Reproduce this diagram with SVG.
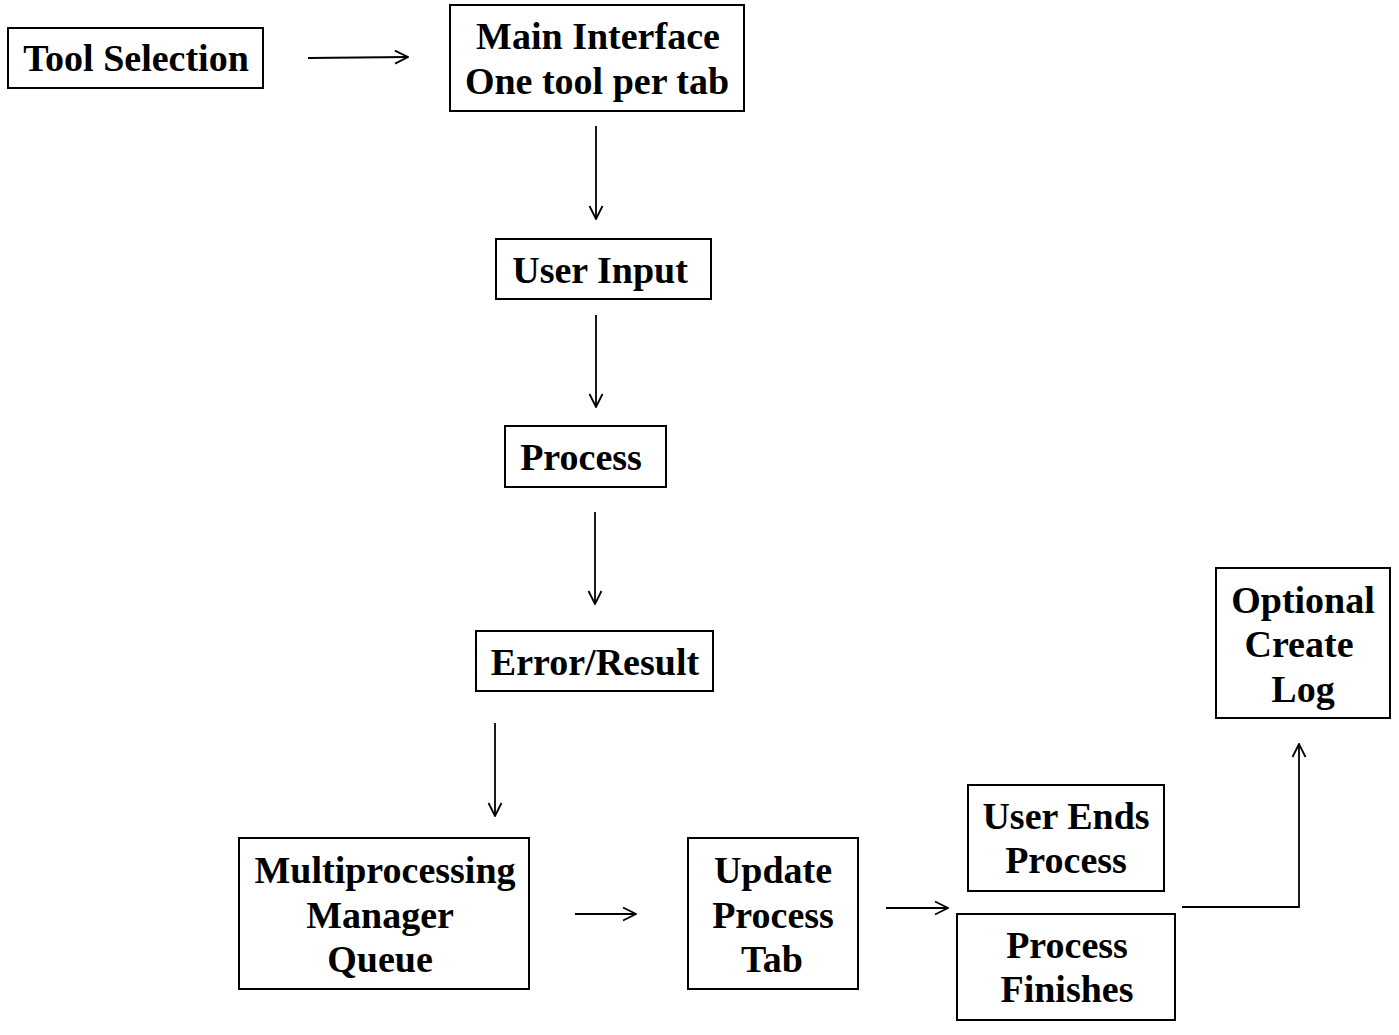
<svg xmlns="http://www.w3.org/2000/svg" width="1399" height="1035" viewBox="0 0 1399 1035">
<defs>
<marker id="arr" viewBox="0 0 16 16" refX="15" refY="8" markerWidth="16" markerHeight="16" markerUnits="userSpaceOnUse" orient="auto">
<path d="M2,1.5 L15,8 L2,14.5" fill="none" stroke="#000" stroke-width="1.8"/>
</marker>
<style>
.box{fill:#fff;stroke:#000;stroke-width:2}
.t{font-family:"Liberation Serif","Times New Roman",serif;font-weight:bold;font-size:38px;fill:#000;text-anchor:middle}
.c{fill:none;stroke:#000;stroke-width:1.8}
</style>
</defs>
<rect width="1399" height="1035" fill="#fff"/>
<g id="connectors">
<path class="c" d="M308,58 L408,57" marker-end="url(#arr)"/>
<path class="c" d="M596,126 L596,219" marker-end="url(#arr)"/>
<path class="c" d="M596,315 L596,407" marker-end="url(#arr)"/>
<path class="c" d="M595,512 L595,604" marker-end="url(#arr)"/>
<path class="c" d="M495,723 L495,816" marker-end="url(#arr)"/>
<path class="c" d="M575,914 L636,914" marker-end="url(#arr)"/>
<path class="c" d="M886,908 L948,908" marker-end="url(#arr)"/>
<path class="c" d="M1182,907 L1299,907 L1299,744" marker-end="url(#arr)"/>
</g>
<g id="tool-selection">
<rect class="box" x="8" y="28" width="255" height="60"/>
<text class="t" x="136" y="71">Tool Selection</text>
</g>
<g id="main-interface">
<rect class="box" x="450" y="5" width="294" height="106"/>
<text class="t" x="598" y="49">Main Interface</text>
<text class="t" x="597" y="94">One tool per tab</text>
</g>
<g id="user-input">
<rect class="box" x="496" y="239" width="215" height="60"/>
<text class="t" x="600" y="283">User Input</text>
</g>
<g id="process">
<rect class="box" x="505" y="426" width="161" height="61"/>
<text class="t" x="581" y="470">Process</text>
</g>
<g id="error-result">
<rect class="box" x="476" y="631" width="237" height="60"/>
<text class="t" x="595" y="675">Error/Result</text>
</g>
<g id="multiprocessing">
<rect class="box" x="239" y="838" width="290" height="151"/>
<text class="t" x="385" y="883">Multiprocessing</text>
<text class="t" x="380" y="928">Manager</text>
<text class="t" x="380" y="972">Queue</text>
</g>
<g id="update-process-tab">
<rect class="box" x="688" y="838" width="170" height="151"/>
<text class="t" x="773" y="883">Update</text>
<text class="t" x="773" y="928">Process</text>
<text class="t" x="772" y="972">Tab</text>
</g>
<g id="user-ends-process">
<rect class="box" x="968" y="785" width="196" height="106"/>
<text class="t" x="1066" y="829">User Ends</text>
<text class="t" x="1066" y="873">Process</text>
</g>
<g id="process-finishes">
<rect class="box" x="957" y="914" width="218" height="106"/>
<text class="t" x="1067" y="958">Process</text>
<text class="t" x="1067" y="1002">Finishes</text>
</g>
<g id="optional-create-log">
<rect class="box" x="1216" y="568" width="174" height="150"/>
<text class="t" x="1303" y="613">Optional</text>
<text class="t" x="1299" y="657">Create</text>
<text class="t" x="1303" y="702">Log</text>
</g>
</svg>
